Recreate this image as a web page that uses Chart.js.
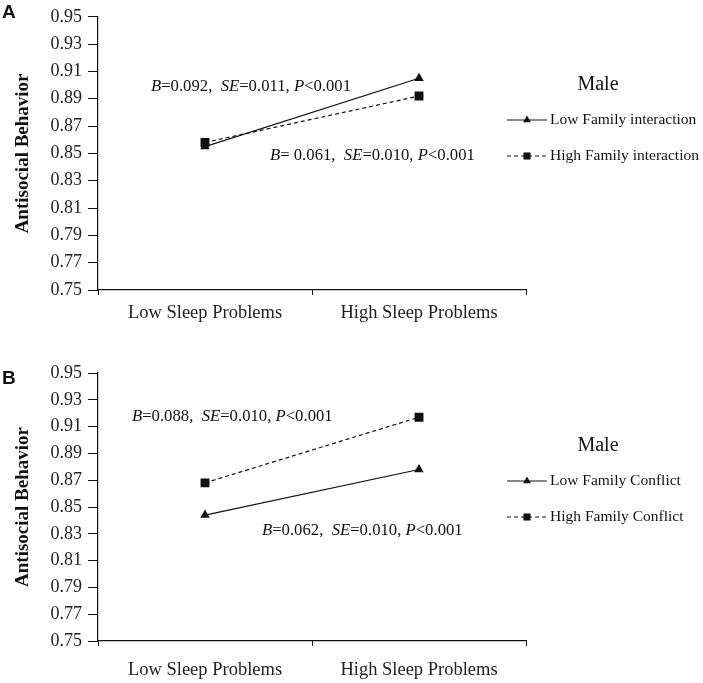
<!DOCTYPE html>
<html>
<head>
<meta charset="utf-8">
<script src="https://cdn.jsdelivr.net/npm/chart.js@4.4.0/dist/chart.umd.min.js"></script>
<style>
  html, body { margin: 0; padding: 0; background: #fff; }
  #wrap { position: relative; width: 703px; height: 683px; }
  .panel { position: absolute; left: 0; width: 703px; }
  #pa { top: 0; height: 340px; }
  #pb { top: 340px; height: 343px; }
</style>
</head>
<body>
<div id="wrap">
  <div class="panel" id="pa"><canvas id="chartA"></canvas></div>
  <div class="panel" id="pb"><canvas id="chartB"></canvas></div>
</div>
<script>
// Dữ liệu
const categories = ['Low Sleep Problems', 'High Sleep Problems'];
const yTicks = [0.75, 0.77, 0.79, 0.81, 0.83, 0.85, 0.87, 0.89, 0.91, 0.93, 0.95];

const lowInteraction = [0.855, 0.905];
const highInteraction = [0.858, 0.892];
const lowConflict = [0.844, 0.878];
const highConflict = [0.868, 0.917];

const seriesNamesA = ['Low Family interaction', 'High Family interaction'];
const seriesNamesB = ['Low Family Conflict', 'High Family Conflict'];

const serif = "'Liberation Serif', 'Times New Roman', serif";

// chữ có phần in nghiêng: [text, italic]
function drawMixed(ctx, parts, x, y, size) {
    let cx = x;
    parts.forEach(p => {
        ctx.font = (p[1] ? 'italic ' : '') + size + 'px ' + serif;
        ctx.fillText(p[0], cx, y);
        cx += ctx.measureText(p[0]).width;
    });
}

function statParts(b, se, gap) {
    return [['B', true], ['=' + gap + b + ',  ', false], ['SE', true], ['=' + se + ', ', false], ['P', true], ['<0.001', false]];
}

// plugin vẽ nhãn, chú thích, chữ A/B
const extrasPlugin = {
    id: 'extras',
    afterDraw(chart, args, opts) {
        const ctx = chart.ctx;
        ctx.save();
        ctx.fillStyle = '#111';
        ctx.textBaseline = 'middle';
        ctx.textAlign = 'left';

        // chữ A / B
        ctx.font = "bold 19px 'Liberation Sans', Arial, sans-serif";
        ctx.fillText(opts.letter, 2, opts.letterY);

        // các dòng thống kê
        opts.notes.forEach(n => drawMixed(ctx, n.parts, n.x, n.y, 16.7));

        // chú thích
        ctx.font = '20px ' + serif;
        ctx.textAlign = 'center';
        ctx.fillText('Male', 598, opts.legendY);
        ctx.textAlign = 'left';
        chart.data.datasets.forEach((ds, i) => {
            const y = opts.legendY + 35 + i * 36;
            ctx.strokeStyle = '#111';
            ctx.lineWidth = 1;
            ctx.setLineDash(ds.borderDash || []);
            ctx.beginPath();
            ctx.moveTo(507, y);
            ctx.lineTo(547, y);
            ctx.stroke();
            ctx.setLineDash([]);
            ctx.fillStyle = '#111';
            Chart.helpers.drawPoint(ctx, { pointStyle: ds.pointStyle, radius: ds.pointStyle === 'rect' ? 5 : 4.5, rotation: 0, borderWidth: 0 }, 527, y);
            ctx.font = '15.5px ' + serif;
            ctx.fillText(ds.label, 550, y);
        });
        ctx.restore();
    }
};

function makeChart(id, low, high, names, cfg) {
    return new Chart(document.getElementById(id), {
        type: 'line',
        data: {
            labels: categories,
            datasets: [{
                label: names[0],
                data: low,
                borderColor: '#111',
                backgroundColor: '#111',
                borderWidth: 1.2,
                pointStyle: 'triangle',
                pointRadius: 5.5,
                pointBorderWidth: 0
            }, {
                label: names[1],
                data: high,
                borderColor: '#111',
                backgroundColor: '#111',
                borderWidth: 1.2,
                borderDash: [4, 3],
                pointStyle: 'rect',
                pointRadius: 6.3,
                pointBorderWidth: 0
            }]
        },
        options: {
            responsive: true,
            maintainAspectRatio: false,
            animation: false,
            layout: { padding: { top: cfg.top, right: 177, left: 0, bottom: 0 } },
            plugins: {
                legend: { display: false },
                tooltip: { enabled: false },
                extras: cfg.extras
            },
            scales: {
                x: {
                    offset: true,
                    grid: { offset: true, drawOnChartArea: false, tickLength: 5, color: '#111' },
                    border: { color: '#111', width: 1.2 },
                    ticks: { color: '#222', font: { family: serif, size: 18.5 }, padding: cfg.xPad, maxRotation: 0 },
                    afterFit(s) { s.height = cfg.xHeight; }
                },
                y: {
                    min: 0.75,
                    max: 0.95,
                    afterBuildTicks(s) { s.ticks = yTicks.map(v => ({ value: v })); },
                    grid: { drawOnChartArea: false, tickLength: 10, color: '#111' },
                    border: { color: '#111', width: 1.2 },
                    ticks: {
                        color: '#222',
                        font: { family: serif, size: 18 },
                        padding: 6,
                        callback: v => v.toFixed(2)
                    },
                    title: {
                        display: true,
                        text: 'Antisocial Behavior',
                        color: '#111',
                        font: { family: serif, size: 19, weight: 'bold' },
                        padding: { top: 12, bottom: 4 }
                    },
                    afterFit(s) { s.width = 98; }
                }
            }
        },
        plugins: [extrasPlugin]
    });
}

makeChart('chartA', lowInteraction, highInteraction, seriesNamesA, {
    top: 12, xHeight: 50, xPad: 7,
    extras: {
        letter: 'A', letterY: 13, legendY: 85,
        notes: [
            { parts: statParts('0.092', '0.011', ''), x: 151, y: 87 },
            { parts: statParts('0.061', '0.010', ' '), x: 270, y: 156 }
        ]
    }
});

makeChart('chartB', lowConflict, highConflict, seriesNamesB, {
    top: 33, xHeight: 42, xPad: 13,
    extras: {
        letter: 'B', letterY: 39, legendY: 106,
        notes: [
            { parts: statParts('0.088', '0.010', ''), x: 132, y: 77 },
            { parts: statParts('0.062', '0.010', ''), x: 262, y: 191 }
        ]
    }
});
</script>
</body>
</html>
